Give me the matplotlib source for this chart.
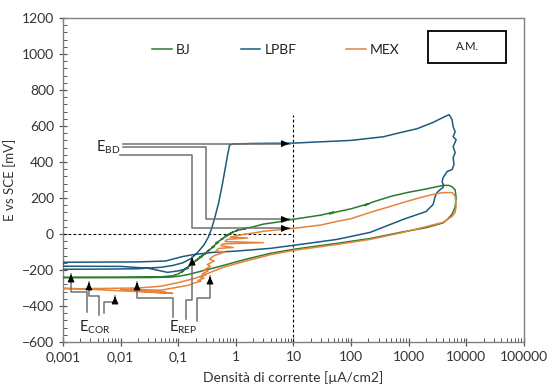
import matplotlib
matplotlib.use("Agg")
import matplotlib.pyplot as plt
from matplotlib.patches import Rectangle
from matplotlib.ticker import FixedLocator, FixedFormatter, LogLocator, NullFormatter, MultipleLocator

plt.rcParams['font.family'] = ['Lato', 'DejaVu Sans']
plt.rcParams['mathtext.default'] = 'regular'

# ---------------- data ----------------
x_ticks = [0.001, 0.01, 0.1, 1, 10, 100, 1000, 10000, 100000]
x_tick_labels = ["0,001", "0,01", "0,1", "1", "10", "100", "1000", "10000", "100000"]
y_ticks = [-600, -400, -200, 0, 200, 400, 600, 800, 1000, 1200]
series_names = ["BJ", "LPBF", "MEX"]

# LPBF (current density uA/cm2, potential mV)
lpbf_i = [0.001, 0.005, 0.02, 0.05, 0.08, 0.12, 0.17, 0.22, 0.28, 0.33, 0.38, 0.43, 0.5, 0.57,
          0.65, 0.72, 0.78, 0.9, 2, 10, 100, 360, 710, 1400, 2650, 3800, 5020, 5660, 5900,
          6390, 5900, 6650, 5900, 6390, 5900, 6100, 5660, 4640, 4290, 3960, 3800, 3960, 3960,
          3510, 3100, 2870, 2650, 2000, 800, 214, 57, 10, 3.9, 1.0, 0.4, 0.18, 0.12, 0.06,
          0.02, 0.001, 0.001, 0.01, 0.03, 0.065, 0.1, 0.15]
lpbf_e = [-196, -195, -193, -185, -175, -160, -135, -100, -60, -20, 30, 90, 170, 260,
          360, 440, 495, 500, 503, 505, 520, 540, 563, 585, 620, 645, 663, 635, 596,
          568, 541, 524, 485, 452, 424, 386, 358, 347, 330, 314, 291, 275, 258,
          247, 230, 208, 164, 125, 81, 9, -30, -63, -80, -95, -102, -115, -125, -150,
          -155, -157, -179, -180, -190, -213, -205, -190]

# BJ
bj_i = [0.001, 0.01, 0.05, 0.08, 0.1, 0.12, 0.115, 0.14, 0.13, 0.16, 0.15, 0.19, 0.17, 0.22,
        0.2, 0.26, 0.23, 0.3, 0.27, 0.35, 0.32, 0.42, 0.38, 0.5, 0.45, 0.6, 0.55, 0.75, 0.65,
        0.9, 0.8, 1.1, 1.0, 1.5, 1.3, 2, 3, 5, 10, 30, 50, 42, 60, 100, 200, 170,
        240, 500, 1000, 2000, 3000, 4000, 5000, 5660, 6390, 6650, 6390, 5660, 4640, 3960,
        2000, 800, 214, 57, 10, 3.9, 1.5, 0.6, 0.3, 0.15, 0.1, 0.07, 0.03, 0.001]
bj_e = [-240, -240, -238, -232, -222, -205, -212, -190, -195, -175, -180, -160, -165, -140,
        -148, -125, -130, -108, -115, -90, -95, -70, -75, -45, -50, -25, -30, -5, -10,
        10, 5, 22, 18, 30, 28, 40, 55, 65, 82, 105, 122, 112, 125, 140, 168, 158,
        178, 210, 232, 250, 262, 270, 270, 262, 245, 200, 150, 110, 80, 62,
        35, 12, -25, -52, -85, -108, -140, -175, -200, -225, -235, -240, -242, -243]

# MEX
mex_i = [0.001, 0.006, 0.08, 0.01, 0.06, 0.015, 0.05, 0.1, 0.15, 0.2, 0.25, 0.22, 0.28, 0.24,
         0.3, 0.26, 0.33, 0.28, 0.36, 0.32, 0.42, 0.35, 0.42, 0.65, 0.45, 0.5, 0.9, 0.55, 0.6,
         3.0, 0.65, 0.7, 1.6, 0.8, 1.0, 1.5, 2, 3,
         5, 10, 30, 57, 100, 214, 500, 800, 1500, 2650, 3960, 5660, 6390, 6650, 6390, 5660,
         4640, 3960, 800, 214, 57, 10, 4, 1.5, 0.6, 0.35, 0.2, 0.1, 0.05, 0.02, 0.001]
mex_e = [-300, -312, -330, -310, -322, -308, -312, -295, -285, -270, -262, -258, -245, -240,
         -228, -222, -205, -200, -180, -170, -150, -140, -120, -100, -95, -80, -75, -65, -55,
         -48, -42, -30, -22, -18, -10, 0, 5, 15,
         22, 31, 50, 70, 85, 120, 155, 175, 200, 220, 230, 230, 210, 153, 120, 98,
         80, 65, 9, -30, -58, -91, -115, -150, -185, -215, -245, -270, -290, -300, -305]

# annotation leader paths (data coords) and arrow tips
ebd_paths = [([0.011, 8.7], [502, 502]),
             ([0.011, 0.304, 0.304, 8.7], [485, 485, 81, 81]),
             ([0.0098, 0.174, 0.174, 8.7], [441, 441, 31, 31])]
ecor_paths = [([0.00261, 0.00261, 0.00138, 0.00138], [-434, -323, -323, -224]),
              ([0.00422, 0.00422, 0.00282, 0.00282], [-451, -346, -346, -268]),
              ([0.00515, 0.00515, 0.0080, 0.0080], [-440, -379, -379, -346]),
              ([0.0813, 0.0813, 0.0193, 0.0193], [-462, -357, -357, -268])]
erep_paths = [([0.136, 0.136, 0.174, 0.174], [-473, -368, -368, -130]),
              ([0.212, 0.212, 0.356, 0.356], [-484, -357, -357, -235])]

# ---------------- figure ----------------
fig = plt.figure(figsize=(5.54, 3.91), dpi=100)
ax = fig.add_axes([0.1137, 0.1253, 0.8321, 0.8287])

c_bj, c_lp, c_mex = "#2b7a30", "#1d5a7e", "#e8833a"
ax.plot(bj_i, bj_e, color=c_bj, lw=1.1, label="BJ", zorder=3)
ax.plot(lpbf_i, lpbf_e, color=c_lp, lw=1.1, label="LPBF", zorder=3)
ax.plot(mex_i, mex_e, color=c_mex, lw=1.1, label="MEX", zorder=3)

# reference dashed lines
ax.plot([10, 10], [-600, 663], color="black", lw=0.8, ls=(0, (2.5, 2)), zorder=2)
ax.plot([0.001, 10], [0, 0], color="black", lw=0.8, ls=(0, (2.5, 2)), zorder=2)

gc = "#707070"
head = "-|>,head_length=0.45,head_width=0.2"
for xs, ys in ebd_paths:
    ax.plot(xs, ys, color=gc, lw=1.1, zorder=4)
    ax.annotate("", xy=(xs[-1] * 1.08, ys[-1]), xytext=(xs[-1] * 0.8, ys[-1]),
                arrowprops=dict(arrowstyle=head, color="black", lw=0.8), zorder=5)
for xs, ys in ecor_paths + erep_paths:
    ax.plot(xs, ys, color=gc, lw=1.1, zorder=4)
    ax.annotate("", xy=(xs[-1], ys[-1]), xytext=(xs[-1], ys[-1] - 30),
                arrowprops=dict(arrowstyle=head, color="black", lw=0.8), zorder=5)

ax.text(0.006, 480, "E$_{BD}$", fontsize=10.5, ha="center", va="center", color="#222222")
ax.text(0.0036, -517, "E$_{COR}$", fontsize=10.5, ha="center", va="center", color="#222222")
ax.text(0.121, -517, "E$_{REP}$", fontsize=10.5, ha="center", va="center", color="#222222")

ax.set_xscale("log")
ax.set_xlim(0.001, 100000)
ax.set_ylim(-600, 1200)
ax.xaxis.set_major_locator(FixedLocator(x_ticks))
ax.xaxis.set_major_formatter(FixedFormatter(x_tick_labels))
ax.xaxis.set_minor_locator(LogLocator(base=10, subs=range(2, 10), numticks=20))
ax.xaxis.set_minor_formatter(NullFormatter())
ax.yaxis.set_major_locator(FixedLocator(y_ticks))
ax.yaxis.set_minor_locator(MultipleLocator(40))

ax.tick_params(which="major", direction="inout", length=6, width=0.9, color="#555555",
               labelsize=10, labelcolor="#333333")
ax.tick_params(which="minor", direction="in", length=3, width=0.7, color="#555555")
for s in ax.spines.values():
    s.set_color("#808080")
    s.set_linewidth(1.0)

ax.set_xlabel("Densità di corrente [µA/cm2]", fontsize=10, color="#333333", labelpad=6)
ax.set_ylabel("E vs SCE [mV]", fontsize=9.5, color="#333333", labelpad=4)

leg = ax.legend(loc="center", bbox_to_anchor=(0.462, 0.901), ncol=3, frameon=False,
                handlelength=1.4, handletextpad=0.3, columnspacing=3.6, fontsize=10)
for t in leg.get_texts():
    t.set_color("#222222")

ax.add_patch(Rectangle((0.792, 0.861), 0.169, 0.099, transform=ax.transAxes,
                       fill=False, ec="black", lw=1.3, zorder=6))
ax.text(0.8765, 0.9105, "A.M.", transform=ax.transAxes, fontsize=8, ha="center",
        va="center", color="#222222")

fig.savefig("out.png", dpi=100)
